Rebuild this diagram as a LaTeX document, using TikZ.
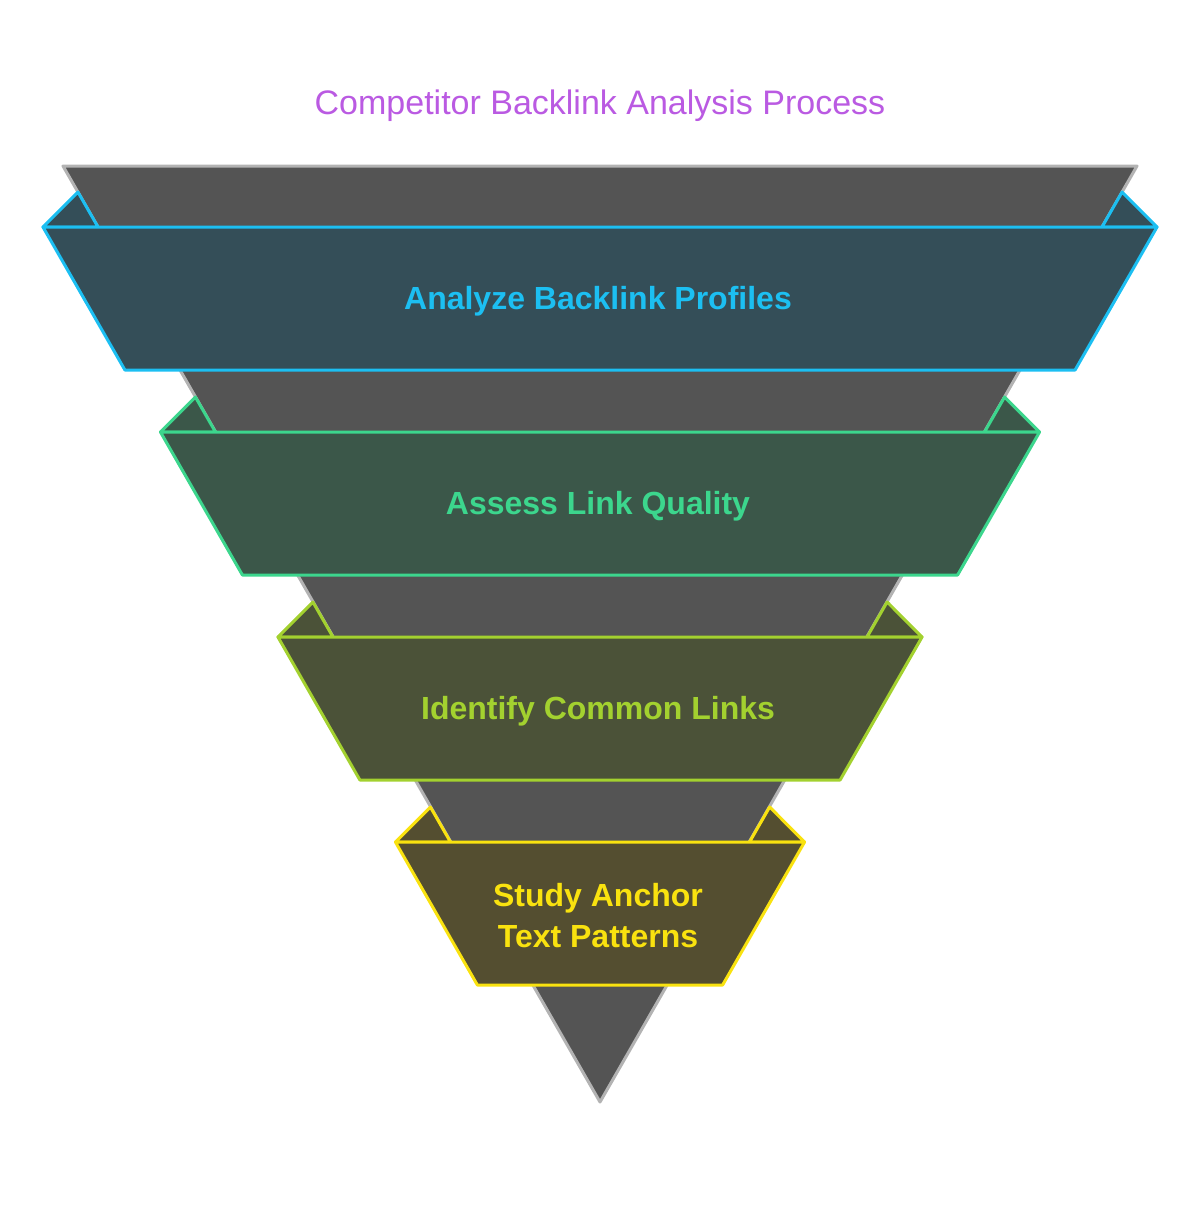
\documentclass[tikz,border=0pt]{standalone}
\usepackage{fontspec}
\setmainfont{Liberation Sans}
\definecolor{titlecol}{HTML}{BA5AE2}
\definecolor{funnelgray}{HTML}{545454}
\definecolor{edgegray}{HTML}{B3B3B3}
\definecolor{bandfill0}{HTML}{344E58}
\definecolor{bandline0}{HTML}{1CBFF2}
\definecolor{bandfill1}{HTML}{3B5749}
\definecolor{bandline1}{HTML}{3CD68D}
\definecolor{bandfill2}{HTML}{4B5238}
\definecolor{bandline2}{HTML}{A3D12F}
\definecolor{bandfill3}{HTML}{544E30}
\definecolor{bandline3}{HTML}{F9E20F}
\begin{document}
\begin{tikzpicture}[x=1pt,y=-1pt,
  bandshape/.style={line width=3pt,line join=round},
  bandtext/.style={font=\bfseries\fontsize{32}{41}\selectfont,align=center}]
  \useasboundingbox (0,0) rectangle (1200,1212);
  \node[text=titlecol,font=\fontsize{34}{40}\selectfont] (title) at (600,106) {Competitor Backlink Analysis Process};
  \draw[fill=funnelgray,draw=edgegray,line width=3pt,line join=round] (63,166) -- (1137,166) -- (600,1102) -- cycle;
  \foreach \i/\txt in {0/{Analyze Backlink Profiles},1/{Assess Link Quality},2/{Identify Common Links},3/{Study Anchor\\Text Patterns}}
  {
    \pgfmathsetmacro{\ytop}{227+205*\i}
    \pgfmathsetmacro{\ybot}{\ytop+143}
    \pgfmathsetmacro{\xtop}{63+0.5731*(\ytop-166)}
    \pgfmathsetmacro{\xbot}{63+0.5731*(\ybot-166)}
    \pgfmathsetmacro{\xear}{63+0.5731*(\ytop-201)}
    \draw[bandshape,fill=bandfill\i,draw=bandline\i] ({\xtop-55},\ytop) -- (\xear,{\ytop-35}) -- (\xtop,\ytop) -- cycle;
    \draw[bandshape,fill=bandfill\i,draw=bandline\i] ({1200-\xtop+55},\ytop) -- ({1200-\xear},{\ytop-35}) -- ({1200-\xtop},\ytop) -- cycle;
    \draw[bandshape,fill=bandfill\i,draw=bandline\i] ({\xtop-55},\ytop) -- ({1200-\xtop+55},\ytop)
      -- ({1200-\xbot+55},\ybot) -- ({\xbot-55},\ybot) -- cycle;
    \node[bandtext,text=bandline\i] (step\i) at (598,{\ytop+74}) {\txt};
  }
\end{tikzpicture}
\end{document}
